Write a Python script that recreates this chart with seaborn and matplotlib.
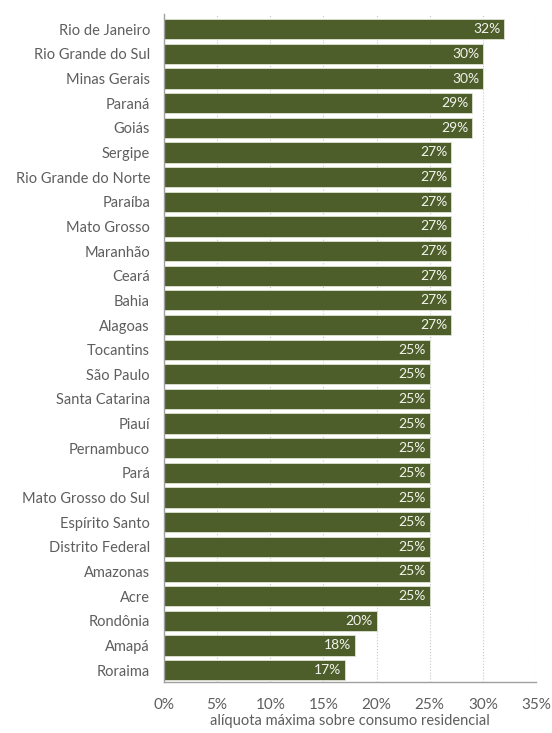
import matplotlib
matplotlib.use('Agg')
import matplotlib.pyplot as plt
from matplotlib.ticker import FuncFormatter, MultipleLocator
import pandas as pd
import seaborn as sns

estados = ['Rio de Janeiro', 'Rio Grande do Sul', 'Minas Gerais', 'Paraná',
           'Goiás', 'Sergipe', 'Rio Grande do Norte', 'Paraíba',
           'Mato Grosso', 'Maranhão', 'Ceará', 'Bahia', 'Alagoas',
           'Tocantins', 'São Paulo', 'Santa Catarina', 'Piauí',
           'Pernambuco', 'Pará', 'Mato Grosso do Sul', 'Espírito Santo',
           'Distrito Federal', 'Amazonas', 'Acre', 'Rondônia', 'Amapá',
           'Roraima']
aliquotas = [32, 30, 30, 29, 29, 27, 27, 27, 27, 27, 27, 27, 27,
             25, 25, 25, 25, 25, 25, 25, 25, 25, 25, 25, 20, 18, 17]

df = pd.DataFrame({'estado': estados, 'aliquota': aliquotas})

sns.set_style('white')
plt.rcParams['font.family'] = ['Lato', 'DejaVu Sans']
texto = '#5e5e5e'

fig = plt.figure(figsize=(5.52, 7.33), dpi=100)
ax = fig.add_axes([0.297, 0.069, 0.674, 0.912])

sns.barplot(data=df, x='aliquota', y='estado', color='#4e5e2a',
            saturation=1, width=0.82, edgecolor='#dfe3d3', linewidth=0.6,
            ax=ax)

for i, v in enumerate(aliquotas):
    ax.text(v - 0.35, i, f'{v}%', ha='right', va='center', color='#f4f4ee',
            fontsize=10)

ax.set_xlim(0, 35)
ax.set_ylim(len(estados) - 0.5, -0.62)
ax.xaxis.set_major_locator(MultipleLocator(5))
ax.xaxis.set_major_formatter(FuncFormatter(lambda x, _: f'{x:.0f}%'))
ax.grid(axis='x', color='#c8c8c8', linestyle=':', linewidth=0.8)
ax.set_axisbelow(True)

for s in ['top', 'right']:
    ax.spines[s].set_visible(False)
for s in ['left', 'bottom']:
    ax.spines[s].set_color('#a0a0a0')
    ax.spines[s].set_linewidth(1)

ax.tick_params(axis='both', length=0, colors=texto, labelsize=10.5)
ax.tick_params(axis='x', pad=11, labelsize=11)
ax.tick_params(axis='y', pad=10)
ax.set_ylabel('')
ax.set_xlabel('alíquota máxima sobre consumo residencial', color=texto,
              fontsize=10.5, labelpad=2)

fig.savefig('out.png', dpi=100)
